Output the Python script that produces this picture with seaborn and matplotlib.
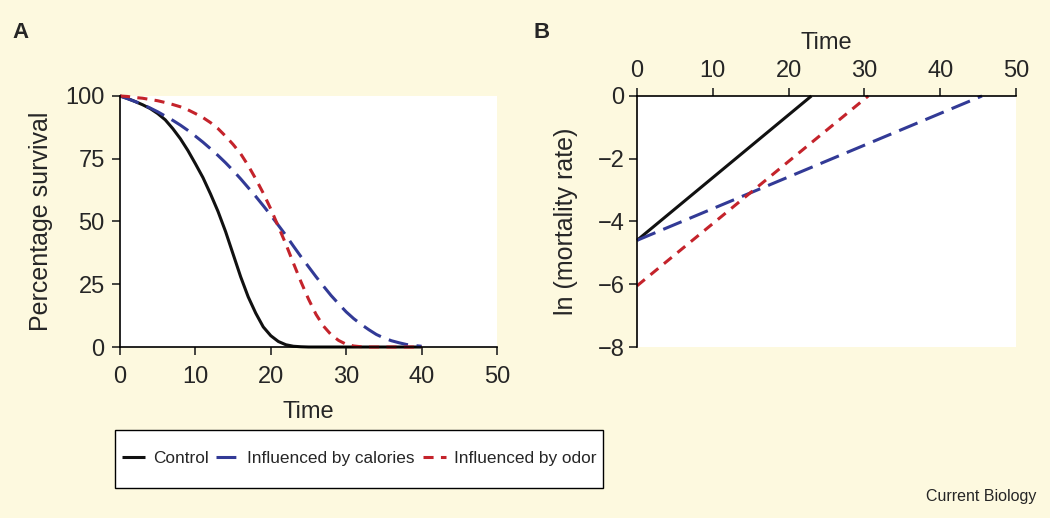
import matplotlib
matplotlib.use("Agg")
import matplotlib.pyplot as plt
import seaborn as sns
import pandas as pd
from matplotlib.patches import Rectangle

# --- Data ---
time_a = list(range(0, 41))
control_surv = [100, 99, 97.8, 96.5, 95, 93, 90.5, 87, 83, 78.3,
                73, 67.5, 61, 54, 46, 37, 28, 20, 13.5, 8,
                4.5, 2.2, 0.9, 0.3, 0.1, 0, 0, 0, 0, 0,
                0, 0, 0, 0, 0, 0, 0, 0, 0, 0, 0]
calories_surv = [100, 98.9, 97.8, 96.6, 95.2, 93.7, 92, 90.3, 88.4, 86.3,
                 84, 81.6, 79, 76.3, 73.4, 70.3, 67, 63.5, 60, 56.3,
                 52.5, 48.5, 44.5, 40.2, 36, 32, 28, 24.2, 20.5, 17.2,
                 14, 11.3, 9, 6.9, 5, 3.6, 2.5, 1.7, 1, 0.6, 0.3]
odor_surv = [100, 99.8, 99.4, 99.1, 98.6, 98.1, 97.4, 96.6, 95.7, 94.5,
             93, 91.4, 89.4, 87, 84, 80.7, 77, 72.3, 67, 61.3,
             55, 48, 41, 33.4, 26, 19.1, 13, 8.3, 4.9, 2.6,
             1.1, 0.4, 0.1, 0, 0, 0, 0, 0, 0, 0, 0]

control_time_b = [0, 23]
control_lnmort = [-4.6, 0]
calories_time_b = [0, 45.5]
calories_lnmort = [-4.6, 0]
odor_time_b = [0, 30.5]
odor_lnmort = [-6.05, 0]

series_names = ["Control", "Influenced by calories", "Influenced by odor"]

# --- Style ---
sns.set_style("ticks")
plt.rcParams['font.family'] = ['Liberation Sans', 'DejaVu Sans']

BG = '#FDF9DF'
BLACK = '#111111'
BLUE = '#323A96'
RED = '#C4232B'
LW = 2.2
styles = {
    "Control": dict(color=BLACK, linestyle='-'),
    "Influenced by calories": dict(color=BLUE, linestyle=(0, (6.5, 2.8))),
    "Influenced by odor": dict(color=RED, linestyle=(0, (3.3, 2.4))),
}

fig = plt.figure(figsize=(10.5, 5.18), dpi=100)
fig.patch.set_facecolor(BG)

ax_a = fig.add_axes([0.1143, 0.3301, 0.359, 0.4846])
ax_b = fig.add_axes([0.6067, 0.3301, 0.361, 0.4846])

# --- Panel A: survival curves ---
df_a = pd.DataFrame({
    "Time": time_a * 3,
    "Survival": control_surv + calories_surv + odor_surv,
    "Group": [n for n in series_names for _ in time_a],
})
handles = []
for name in series_names:
    sub = df_a[df_a["Group"] == name]
    sns.lineplot(data=sub, x="Time", y="Survival", ax=ax_a, linewidth=LW,
                 clip_on=False, solid_capstyle='butt', **styles[name])
    handles.append(ax_a.lines[-1])

ax_a.set_xlim(0, 50)
ax_a.set_ylim(0, 100)
ax_a.set_xticks([0, 10, 20, 30, 40, 50])
ax_a.set_yticks([0, 25, 50, 75, 100])
ax_a.set_xlabel("Time", fontsize=17, labelpad=9)
ax_a.set_ylabel("Percentage survival", fontsize=18, labelpad=9)
ax_a.tick_params(axis='x', labelsize=17, length=6, width=1.2, pad=8)
ax_a.tick_params(axis='y', labelsize=17, length=6, width=1.2, pad=5)
sns.despine(ax=ax_a)

# --- Panel B: ln mortality ---
b_data = [
    ("Control", control_time_b, control_lnmort),
    ("Influenced by calories", calories_time_b, calories_lnmort),
    ("Influenced by odor", odor_time_b, odor_lnmort),
]
for name, tx, ly in b_data:
    sns.lineplot(x=tx, y=ly, ax=ax_b, linewidth=LW, clip_on=False,
                 solid_capstyle='butt', **styles[name])

ax_b.set_xlim(0, 50)
ax_b.set_ylim(-8, 0)
ax_b.set_xticks([0, 10, 20, 30, 40, 50])
ax_b.set_yticks([0, -2, -4, -6, -8])
ax_b.xaxis.tick_top()
ax_b.xaxis.set_label_position('top')
ax_b.set_xlabel("Time", fontsize=17, labelpad=8)
ax_b.set_ylabel("ln (mortality rate)", fontsize=18, labelpad=14)
ax_b.tick_params(axis='x', labelsize=17, length=6, width=1.2, pad=4)
ax_b.tick_params(axis='y', labelsize=17, length=6, width=1.2, pad=3)
ax_b.spines['bottom'].set_visible(False)
ax_b.spines['right'].set_visible(False)

for ax in (ax_a, ax_b):
    ax.set_facecolor('white')
    for s in ax.spines.values():
        s.set_linewidth(1.2)
        s.set_color('black')
    leg = ax.get_legend()
    if leg is not None:
        leg.remove()

# --- Legend (box drawn separately so it can be taller than the text row) ---
fig.patches.append(Rectangle((0.1095, 0.058), 0.465, 0.112, transform=fig.transFigure,
                             facecolor='white', edgecolor='black', linewidth=1.0,
                             zorder=1))
fig.legend(handles, series_names, loc='center', bbox_to_anchor=(0.342, 0.114),
           ncol=3, frameon=False,
           prop={'family': 'Liberation Sans', 'size': 12.4},
           handlelength=1.35, handletextpad=0.45, columnspacing=0.45)

# --- Panel letters and credit ---
fig.text(0.012, 0.927, "A", fontsize=16, fontweight='bold', ha='left', va='baseline')
fig.text(0.508, 0.927, "B", fontsize=16, fontweight='bold', ha='left', va='baseline')
fig.text(0.987, 0.032, "Current Biology", fontsize=11.5, ha='right', va='baseline')

plt.savefig("out.png", dpi=100, facecolor=fig.get_facecolor())
plt.close()
